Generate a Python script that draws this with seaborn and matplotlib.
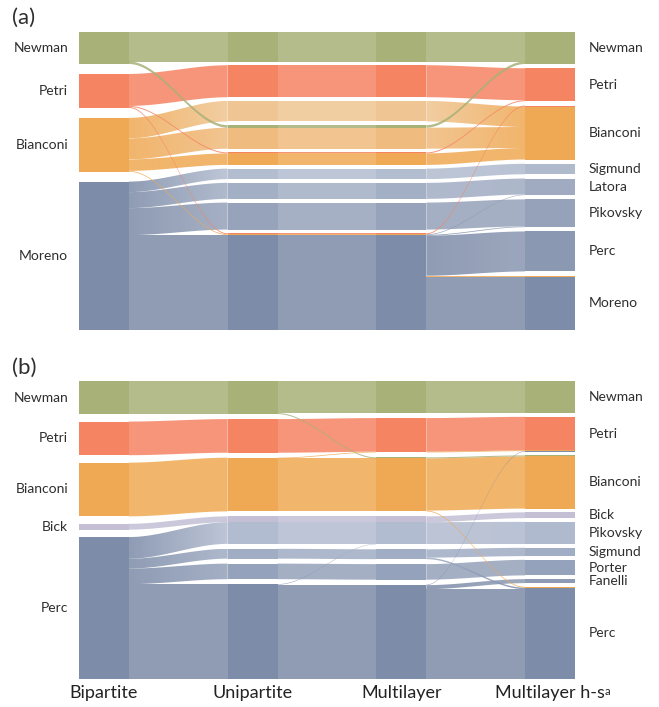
import numpy as np
import matplotlib
matplotlib.use("Agg")
import matplotlib.pyplot as plt
from matplotlib.patches import Polygon
from matplotlib.colors import to_rgb
from matplotlib.transforms import blended_transform_factory
import seaborn as sns

sns.set_theme(style="white")
plt.rcParams["font.family"] = ["Lato", "DejaVu Sans"]

COLUMNS = ["Bipartite", "Unipartite", "Multilayer", "Multilayer h-s"]

# ---------------- panel (a) ----------------
A_GROUPS = ["Newman", "Petri", "Bianconi", "Moreno"]
A_MODULES_BIP = ["Newman", "Petri", "Bianconi", "Moreno"]
A_MODULES_UNI = ["Newman", "Petri", "Bianconi I", "Bianconi II", "Bianconi III",
                 "Moreno I", "Moreno II", "Moreno III", "Moreno"]
A_MODULES_MUL = list(A_MODULES_UNI)
A_MODULES_MHS = ["Newman", "Petri", "Bianconi", "Sigmund", "Latora",
                 "Pikovsky", "Perc", "Moreno"]

# one entry per stream of nodes: size, origin group and module in each network
A_WEIGHT = [29.5, 2.5, 32.0, 1.0, 1.0, 20.5, 21.0, 11.5, 0.8,
            10.5, 16.0, 27.0, 0.6, 0.8, 40.0, 53.5]
A_GROUP = ["Newman", "Newman", "Petri", "Petri", "Petri",
           "Bianconi", "Bianconi", "Bianconi", "Bianconi",
           "Moreno", "Moreno", "Moreno", "Moreno", "Moreno", "Moreno", "Moreno"]
A_BIP = ["Newman", "Newman", "Petri", "Petri", "Petri",
         "Bianconi", "Bianconi", "Bianconi", "Bianconi",
         "Moreno", "Moreno", "Moreno", "Moreno", "Moreno", "Moreno", "Moreno"]
A_UNI = ["Newman", "Bianconi II", "Petri", "Bianconi III", "Moreno",
         "Bianconi I", "Bianconi II", "Bianconi III", "Moreno",
         "Moreno I", "Moreno II", "Moreno III", "Moreno", "Moreno", "Moreno", "Moreno"]
A_MUL = list(A_UNI)
A_MHS = ["Newman", "Newman", "Petri", "Petri", "Bianconi",
         "Bianconi", "Bianconi", "Bianconi", "Moreno",
         "Sigmund", "Latora", "Pikovsky", "Latora", "Pikovsky", "Perc", "Moreno"]

# ---------------- panel (b) ----------------
B_GROUPS = ["Newman", "Petri", "Bianconi", "Bick", "Perc"]
B_MODULES_BIP = ["Newman", "Petri", "Bianconi", "Bick", "Perc"]
B_MODULES_UNI = ["Newman", "Petri", "Bianconi", "Perc I", "Perc II", "Perc III", "Perc"]
B_MODULES_MUL = list(B_MODULES_UNI)
B_MODULES_MHS = ["Newman", "Petri", "Bianconi", "Bick", "Pikovsky",
                 "Sigmund", "Porter", "Fanelli", "Perc"]

B_WEIGHT = [32.0, 1.0, 33.5, 0.7, 52.0, 0.8, 5.8, 21.6, 8.3, 1.5,
            15.5, 0.5, 0.5, 4.0, 89.5]
B_GROUP = ["Newman", "Newman", "Petri", "Bianconi", "Bianconi", "Bianconi", "Bick",
           "Perc", "Perc", "Perc", "Perc", "Perc", "Perc", "Perc", "Perc"]
B_BIP = ["Newman", "Newman", "Petri", "Bianconi", "Bianconi", "Bianconi", "Bick",
         "Perc", "Perc", "Perc", "Perc", "Perc", "Perc", "Perc", "Perc"]
B_UNI = ["Newman", "Newman", "Petri", "Bianconi", "Bianconi", "Bianconi", "Perc I",
         "Perc I", "Perc II", "Perc II", "Perc III", "Perc", "Perc", "Perc", "Perc"]
B_MUL = ["Newman", "Bianconi", "Petri", "Petri", "Bianconi", "Bianconi", "Perc I",
         "Perc I", "Perc II", "Perc II", "Perc III", "Perc I", "Perc", "Perc", "Perc"]
B_MHS = ["Newman", "Bianconi", "Petri", "Petri", "Bianconi", "Perc", "Bick",
         "Pikovsky", "Sigmund", "Perc", "Porter", "Pikovsky", "Petri", "Fanelli", "Perc"]

# ---------------- styling ----------------
GREEN, RED, ORANGE, SLATE, LAVENDER = "#a8b178", "#f58463", "#efa954", "#7d8ca8", "#c4bfd5"
A_GROUP_COLORS = {"Newman": GREEN, "Petri": RED, "Bianconi": ORANGE, "Moreno": SLATE}
B_GROUP_COLORS = {"Newman": GREEN, "Petri": RED, "Bianconi": ORANGE,
                  "Bick": LAVENDER, "Perc": SLATE}

A_MODULE_STYLE = {
    "Newman": ("Newman", GREEN), "Petri": ("Petri", RED), "Bianconi": ("Bianconi", ORANGE),
    "Bianconi I": ("Bianconi", "#efc693"), "Bianconi II": ("Bianconi", "#efbb7e"),
    "Bianconi III": ("Bianconi", "#f0a954"),
    "Moreno I": ("Moreno", "#b3bdd0"), "Moreno II": ("Moreno", "#a3afc5"),
    "Moreno III": ("Moreno", "#97a3bb"), "Moreno": ("Moreno", SLATE),
    "Sigmund": ("Moreno", "#afbacd"), "Latora": ("Moreno", "#a0abc2"),
    "Pikovsky": ("Moreno", "#96a2ba"), "Perc": ("Moreno", "#8b98b2"),
}
B_MODULE_STYLE = {
    "Newman": ("Newman", GREEN), "Petri": ("Petri", RED), "Bianconi": ("Bianconi", ORANGE),
    "Bick": ("Bick", LAVENDER),
    "Perc I": ("Perc", "#b2bcd0"), "Perc II": ("Perc", "#a1adc4"),
    "Perc III": ("Perc", "#95a2bb"), "Perc": ("Perc", SLATE),
    "Pikovsky": ("Perc", "#afbacf"), "Sigmund": ("Perc", "#a1adc4"),
    "Porter": ("Perc", "#95a2bb"), "Fanelli": ("Perc", "#8e9bb4"),
}

HALF_W = 25 / 148.7     # half width of a module column, in column units
FILL = 0.9              # share of the column height taken by modules
FLOW_ALPHA = 0.86
TEXT = "#2e2e2e"


def smooth(t):
    return t * t * (3 - 2 * t)


def draw_panel(ax, weights, groups, paths, modules, group_names, group_colors, style):
    n_col = len(paths)
    W = float(sum(weights))
    H = W / FILL
    gidx = {g: i for i, g in enumerate(group_names)}

    tops, sizes = [], []
    for c in range(n_col):
        sz = {m: 0.0 for m in modules[c]}
        for w, m in zip(weights, paths[c]):
            sz[m] += w
        gap = (H - W) / (len(modules[c]) - 1)
        y, tp = 0.0, {}
        for m in modules[c]:
            tp[m] = y
            y += sz[m] + gap
        tops.append(tp)
        sizes.append(sz)

    def seg_color(group, module):
        mg, mc = style[module]
        return mc if mg == group else group_colors[group]

    flows = []
    segments = {c: [] for c in range(n_col)}
    for c in range(n_col - 1):
        agg = {}
        for w, g, s, t in zip(weights, groups, paths[c], paths[c + 1]):
            agg[(s, t, g)] = agg.get((s, t, g), 0.0) + w
        ms = {m: i for i, m in enumerate(modules[c])}
        mt = {m: i for i, m in enumerate(modules[c + 1])}
        out_y, in_y = {}, {}
        for m in modules[c]:
            keys = sorted([k for k in agg if k[0] == m], key=lambda k: (mt[k[1]], gidx[k[2]]))
            y = tops[c][m]
            for k in keys:
                out_y[k] = y
                y += agg[k]
        for m in modules[c + 1]:
            keys = sorted([k for k in agg if k[1] == m], key=lambda k: (gidx[k[2]], ms[k[0]]))
            y = tops[c + 1][m]
            for k in keys:
                in_y[k] = y
                y += agg[k]
        for k, w in agg.items():
            flows.append((c, out_y[k], in_y[k], w,
                           seg_color(k[2], k[0]), seg_color(k[2], k[1])))
            if c == 0:
                segments[0].append((out_y[k], w, seg_color(k[2], k[0])))
            segments[c + 1].append((in_y[k], w, seg_color(k[2], k[1])))

    # flows between neighbouring columns, thick ones first
    t = np.linspace(0, 1, 80)
    for c, y0, y1, w, c0, c1 in sorted(flows, key=lambda f: -f[3]):
        x0, x1 = c + HALF_W, c + 1 - HALF_W
        xs = x0 + (x1 - x0) * t
        top = y0 + (y1 - y0) * smooth(t)
        bot = top + w
        verts = np.vstack([np.column_stack([xs, top]), np.column_stack([xs[::-1], bot[::-1]])])
        if c0 == c1:
            ax.add_patch(Polygon(verts, closed=True, facecolor=c0, edgecolor="none",
                                 alpha=FLOW_ALPHA, lw=0))
        else:
            poly = Polygon(verts, closed=True, facecolor="none", edgecolor="none", lw=0)
            ax.add_patch(poly)
            a, b = np.array(to_rgb(c0)), np.array(to_rgb(c1))
            grad = np.linspace(0, 1, 64)[:, None]
            rgb = a[None, :] * (1 - grad) + b[None, :] * grad
            img = np.concatenate([rgb, np.full((64, 1), FLOW_ALPHA)], axis=1)[None, :, :]
            im = ax.imshow(img, extent=[x0, x1, max(y0, y1) + w, min(y0, y1)],
                           aspect="auto", interpolation="bilinear", zorder=1)
            im.set_clip_path(poly)

    # module blocks in each column
    for c in range(n_col):
        segs = sorted(segments[c])
        merged = []
        for y, h, col in segs:
            if merged and merged[-1][2] == col and abs(merged[-1][0] + merged[-1][1] - y) < 1e-6:
                merged[-1][1] += h
            else:
                merged.append([y, h, col])
        ax.bar([c] * len(merged), [m[1] for m in merged], bottom=[m[0] for m in merged],
               width=2 * HALF_W, color=[m[2] for m in merged], linewidth=0, zorder=3)

    # module names beside the outer columns
    px = 1 / 148.7
    for m in modules[0]:
        ax.text(-HALF_W - 11 * px, tops[0][m] + sizes[0][m] / 2, m, ha="right",
                va="center", fontsize=10, color=TEXT)
    last = n_col - 1
    for m in modules[last]:
        ax.text(last + HALF_W + 14 * px, tops[last][m] + sizes[last][m] / 2, m, ha="left",
                va="center", fontsize=10, color=TEXT)

    ax.set_xlim(-HALF_W, n_col - 1 + HALF_W)
    ax.set_ylim(H, 0)
    ax.set_axis_off()


fig = plt.figure(figsize=(6.59, 7.07), dpi=100)
FW, FH = 659, 707
ax_a = fig.add_axes([79 / FW, 1 - 330 / FH, 496 / FW, 298 / FH])
ax_b = fig.add_axes([79 / FW, 1 - 679 / FH, 496 / FW, 298 / FH])

draw_panel(ax_a, A_WEIGHT, A_GROUP, [A_BIP, A_UNI, A_MUL, A_MHS],
           [A_MODULES_BIP, A_MODULES_UNI, A_MODULES_MUL, A_MODULES_MHS],
           A_GROUPS, A_GROUP_COLORS, A_MODULE_STYLE)
draw_panel(ax_b, B_WEIGHT, B_GROUP, [B_BIP, B_UNI, B_MUL, B_MHS],
           [B_MODULES_BIP, B_MODULES_UNI, B_MODULES_MUL, B_MODULES_MHS],
           B_GROUPS, B_GROUP_COLORS, B_MODULE_STYLE)

fig.text(12 / FW, 1 - 18 / FH, "(a)", ha="left", va="center", fontsize=16, color=TEXT)
fig.text(12 / FW, 1 - 368 / FH, "(b)", ha="left", va="center", fontsize=16, color=TEXT)

trans = blended_transform_factory(ax_b.transData, fig.transFigure)
for i, name in enumerate(COLUMNS):
    txt = ax_b.text(i, 1 - 693 / FH, name, ha="center", va="center",
                    fontsize=13, color="#222222", transform=trans)
    if i == 3:
        ax_b.annotate("a", xy=(1.0, 0.92), xycoords=txt, xytext=(-0.5, 0),
                      textcoords="offset points", ha="left", va="top",
                      fontsize=8, color="#222222")

fig.savefig("out.png", dpi=100)
